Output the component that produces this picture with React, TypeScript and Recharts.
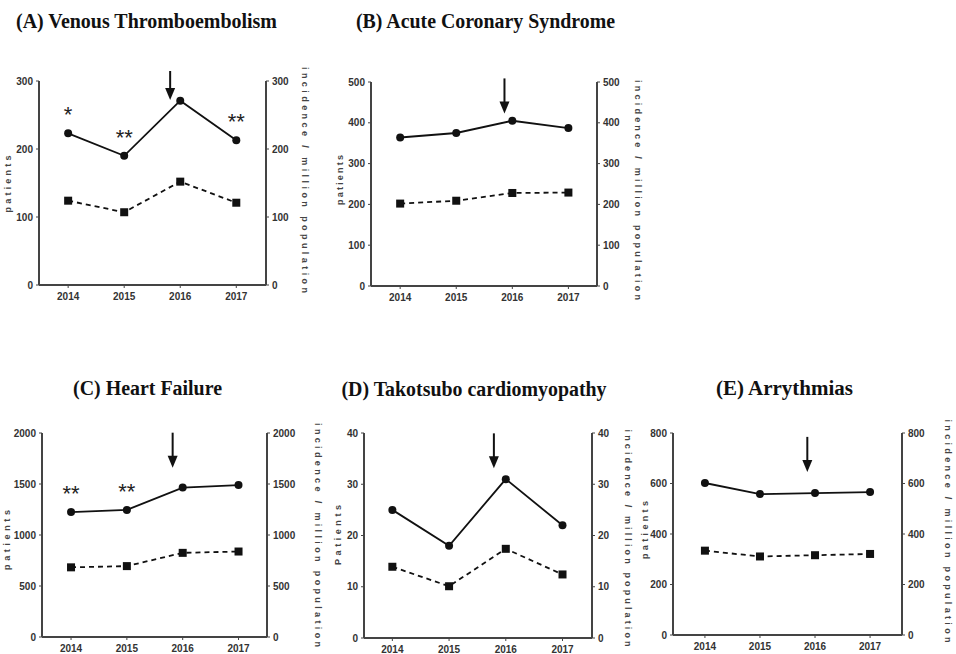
import React from 'react';
import { LineChart, Line, XAxis, YAxis, ReferenceDot, LabelList } from 'recharts';

// Years on the x axis
const years = [2014, 2015, 2016, 2017];

// (A) Venous Thromboembolism
const vtePatients = [223, 190, 271, 213];
const vteIncidence = [124, 107, 152, 121];
const vteMarks = ['*', '**', '', '**'];

// (B) Acute Coronary Syndrome
const acsPatients = [364, 375, 405, 387];
const acsIncidence = [202, 209, 228, 229];

// (C) Heart Failure
const hfPatients = [1225, 1246, 1465, 1489];
const hfIncidence = [683, 695, 825, 838];
const hfMarks = ['**', '**', '', ''];

// (D) Takotsubo cardiomyopathy
const ttcPatients = [25, 18, 31, 22];
const ttcIncidence = [13.9, 10.1, 17.4, 12.4];

// (E) Arrythmias
const arrPatients = [602, 558, 562, 566];
const arrIncidence = [334, 311, 316, 321];

const noMarks = ['', '', '', ''];

const INK = '#111';
const AXIS = '#444';
const TICK_FONT = { fontSize: 10, fontWeight: 700, fontFamily: 'Liberation Sans, Arial, sans-serif', fill: '#333' };

type Box = { x0: number; x1: number; y0: number; y1: number };

type PanelProps = {
  box: Box;
  xDomain: [number, number];
  yMax: number;
  yTicks: number[];
  patients: number[];
  incidence: number[];
  marks: string[];
  arrowYear: number;
  arrowTip: number;
};

const CircleDot = (props: any) => {
  const { cx, cy } = props;
  if (cx == null || cy == null) return null;
  return <circle cx={cx} cy={cy} r={4} fill={INK} />;
};

const SquareDot = (props: any) => {
  const { cx, cy } = props;
  if (cx == null || cy == null) return null;
  return <rect x={cx - 4} y={cy - 4} width={8} height={8} fill={INK} />;
};

const Arrow = (props: any) => {
  const { cx, cy } = props;
  if (cx == null || cy == null) return null;
  return (
    <g>
      <line x1={cx} y1={cy - 35} x2={cx} y2={cy - 10} stroke={INK} strokeWidth={2} />
      <polygon points={`${cx - 5},${cy - 12} ${cx + 5},${cy - 12} ${cx},${cy}`} fill={INK} />
    </g>
  );
};

const Stars = (props: any) => {
  const { x, y, value } = props;
  if (!value) return null;
  return (
    <text x={x} y={y - 11} textAnchor="middle" fontSize={22} fontFamily="Liberation Sans, Arial, sans-serif" fill="#222">
      {value}
    </text>
  );
};

const Panel = ({ box, xDomain, yMax, yTicks, patients, incidence, marks, arrowYear, arrowTip }: PanelProps) => {
  const data = years.map((year, i) => ({
    year,
    patients: patients[i],
    incidence: incidence[i],
    mark: marks[i],
  }));
  const width = box.x1 - box.x0 + 90;
  const height = box.y1 - box.y0 + 40;
  return (
    <div style={{ position: 'absolute', left: box.x0 - 45, top: box.y0 - 10 }}>
      <LineChart width={width} height={height} data={data} margin={{ top: 10, right: 10, left: 10, bottom: 0 }}>
        <XAxis
          dataKey="year"
          type="number"
          domain={xDomain}
          ticks={years}
          allowDataOverflow
          height={30}
          tick={TICK_FONT}
          tickSize={3}
          tickMargin={5}
          axisLine={{ stroke: AXIS, strokeWidth: 2 }}
          tickLine={{ stroke: AXIS }}
        />
        <YAxis
          yAxisId="left"
          domain={[0, yMax]}
          ticks={yTicks}
          width={35}
          tick={TICK_FONT}
          tickSize={3}
          tickMargin={3}
          axisLine={{ stroke: AXIS, strokeWidth: 2 }}
          tickLine={{ stroke: AXIS }}
        />
        <YAxis
          yAxisId="right"
          orientation="right"
          domain={[0, yMax]}
          ticks={yTicks}
          width={35}
          tick={{ ...TICK_FONT, textAnchor: 'start' }}
          tickSize={3}
          tickMargin={3}
          axisLine={{ stroke: AXIS, strokeWidth: 2 }}
          tickLine={{ stroke: AXIS }}
        />
        <Line
          yAxisId="left"
          dataKey="patients"
          type="linear"
          stroke={INK}
          strokeWidth={1.8}
          dot={<CircleDot />}
          activeDot={false}
          isAnimationActive={false}
        >
          <LabelList dataKey="mark" content={<Stars />} />
        </Line>
        <Line
          yAxisId="right"
          dataKey="incidence"
          type="linear"
          stroke={INK}
          strokeWidth={1.8}
          strokeDasharray="5 4"
          dot={<SquareDot />}
          activeDot={false}
          isAnimationActive={false}
        />
        <ReferenceDot yAxisId="left" x={arrowYear} y={arrowTip} shape={<Arrow />} />
      </LineChart>
    </div>
  );
};

const LABEL_FONT = 'Liberation Sans, Arial, sans-serif';

const VLabel = ({ x, y, text, length, dir }: { x: number; y: number; text: string; length: number; dir: number }) => (
  <text
    transform={`translate(${x},${y}) rotate(${dir})`}
    textAnchor="middle"
    dominantBaseline="central"
    fontFamily={LABEL_FONT}
    fontWeight={700}
    fontSize={9}
    fill="#444"
    textLength={length}
    lengthAdjust="spacing"
  >
    {text}
  </text>
);

const Title = ({ x, y, text, length }: { x: number; y: number; text: string; length: number }) => (
  <text
    x={x}
    y={y}
    textAnchor="middle"
    fontFamily="Liberation Serif, Times New Roman, serif"
    fontWeight={700}
    fontSize={20}
    fill="#111"
    textLength={length}
    lengthAdjust="spacingAndGlyphs"
  >
    {text}
  </text>
);

const App = () => {
  return (
    <div style={{ position: 'absolute', left: 0, top: 0, width: 956, height: 654, background: '#fff', overflow: 'hidden' }}>
      <Panel
        box={{ x0: 39, x1: 266, y0: 81, y1: 285 }}
        xDomain={[2013.48, 2017.53]}
        yMax={300}
        yTicks={[0, 100, 200, 300]}
        patients={vtePatients}
        incidence={vteIncidence}
        marks={vteMarks}
        arrowYear={2015.82}
        arrowTip={272}
      />
      <Panel
        box={{ x0: 371, x1: 597, y0: 82, y1: 286 }}
        xDomain={[2013.48, 2017.51]}
        yMax={500}
        yTicks={[0, 100, 200, 300, 400, 500]}
        patients={acsPatients}
        incidence={acsIncidence}
        marks={noMarks}
        arrowYear={2015.86}
        arrowTip={423}
      />
      <Panel
        box={{ x0: 42, x1: 267, y0: 433, y1: 637 }}
        xDomain={[2013.48, 2017.51]}
        yMax={2000}
        yTicks={[0, 500, 1000, 1500, 2000]}
        patients={hfPatients}
        incidence={hfIncidence}
        marks={hfMarks}
        arrowYear={2015.82}
        arrowTip={1660}
      />
      <Panel
        box={{ x0: 364, x1: 592, y0: 433, y1: 638 }}
        xDomain={[2013.5, 2017.52]}
        yMax={40}
        yTicks={[0, 10, 20, 30, 40]}
        patients={ttcPatients}
        incidence={ttcIncidence}
        marks={noMarks}
        arrowYear={2015.79}
        arrowTip={33.1}
      />
      <Panel
        box={{ x0: 673, x1: 902, y0: 433, y1: 635 }}
        xDomain={[2013.42, 2017.58]}
        yMax={800}
        yTicks={[0, 200, 400, 600, 800]}
        patients={arrPatients}
        incidence={arrIncidence}
        marks={noMarks}
        arrowYear={2015.86}
        arrowTip={646}
      />
      <svg width={956} height={654} style={{ position: 'absolute', left: 0, top: 0, pointerEvents: 'none' }}>
        <Title x={146.5} y={28} text="(A) Venous Thromboembolism" length={261} />
        <Title x={485.5} y={28} text="(B) Acute Coronary Syndrome" length={259} />
        <Title x={147.5} y={395} text="(C) Heart Failure" length={149} />
        <Title x={474} y={396} text="(D) Takotsubo cardiomyopathy" length={265} />
        <Title x={784.5} y={395} text="(E) Arrythmias" length={137} />

        <VLabel x={8} y={184} text="patients" length={57} dir={-90} />
        <VLabel x={305} y={180} text="incidence / million population" length={226} dir={90} />
        <VLabel x={340} y={180} text="patients" length={50} dir={-90} />
        <VLabel x={638} y={190} text="incidence / million population" length={220} dir={90} />
        <VLabel x={7} y={540} text="patients" length={60} dir={-90} />
        <VLabel x={318} y={535} text="incidence / million population" length={224} dir={90} />
        <VLabel x={338} y={535} text="Patients" length={60} dir={-90} />
        <VLabel x={628} y={538} text="incidence / million population" length={217} dir={90} />
        <VLabel x={645} y={530} text="patients" length={58} dir={-90} />
        <VLabel x={948} y={531} text="incidence / million population" length={223} dir={90} />
      </svg>
    </div>
  );
};

export default App;
